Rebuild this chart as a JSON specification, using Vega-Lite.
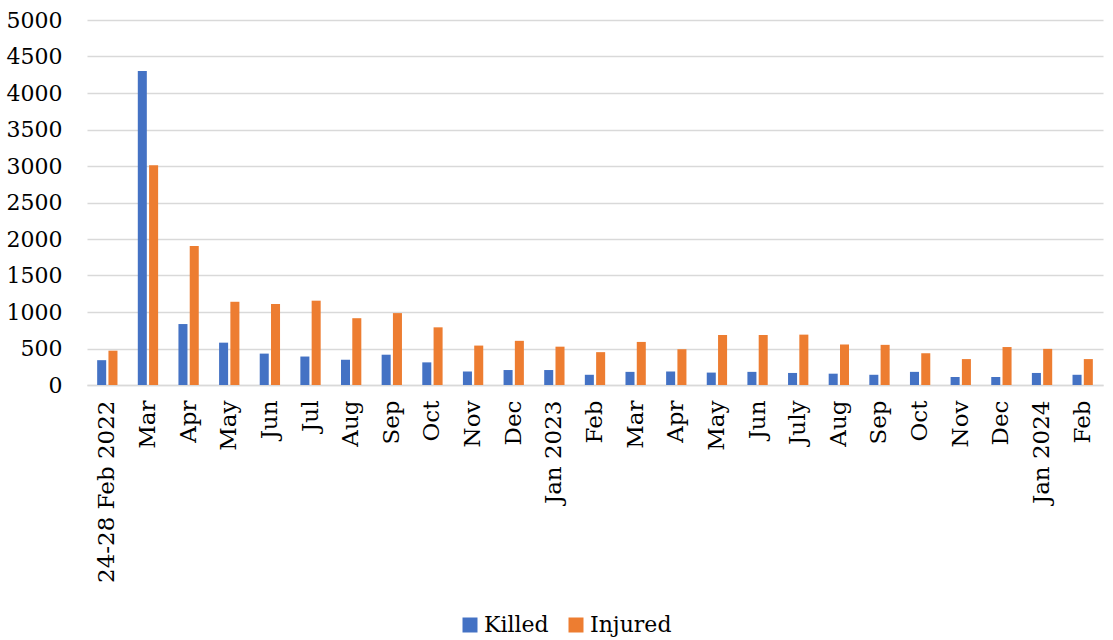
{
  "$schema": "https://vega.github.io/schema/vega-lite/v6.json",
  "width": 1016,
  "height": 365,
  "autosize": {"type": "none"},
  "padding": {"left": 87, "top": 20, "right": 10, "bottom": 255},
  "background": "white",
  "config": {
    "view": {"stroke": null},
    "font": "DejaVu Serif",
    "axis": {"labelFont": "DejaVu Serif", "labelFontSize": 22, "labelColor": "#000000", "title": null},
    "legend": {"labelFont": "DejaVu Serif", "labelFontSize": 22, "labelColor": "#000000"}
  },
  "data": {
    "values": [
      {"period": "24-28 Feb 2022|", "series": "Killed", "value": 340},
      {"period": "24-28 Feb 2022|", "series": "Injured", "value": 470},
      {"period": "Mar|22", "series": "Killed", "value": 4300},
      {"period": "Mar|22", "series": "Injured", "value": 3010},
      {"period": "Apr|22", "series": "Killed", "value": 835},
      {"period": "Apr|22", "series": "Injured", "value": 1905},
      {"period": "May|22", "series": "Killed", "value": 580},
      {"period": "May|22", "series": "Injured", "value": 1140},
      {"period": "Jun|22", "series": "Killed", "value": 430},
      {"period": "Jun|22", "series": "Injured", "value": 1110},
      {"period": "Jul|22", "series": "Killed", "value": 390},
      {"period": "Jul|22", "series": "Injured", "value": 1155},
      {"period": "Aug|22", "series": "Killed", "value": 345},
      {"period": "Aug|22", "series": "Injured", "value": 915},
      {"period": "Sep|22", "series": "Killed", "value": 415},
      {"period": "Sep|22", "series": "Injured", "value": 985},
      {"period": "Oct|22", "series": "Killed", "value": 310},
      {"period": "Oct|22", "series": "Injured", "value": 790},
      {"period": "Nov|22", "series": "Killed", "value": 185},
      {"period": "Nov|22", "series": "Injured", "value": 540},
      {"period": "Dec|22", "series": "Killed", "value": 205},
      {"period": "Dec|22", "series": "Injured", "value": 605},
      {"period": "Jan 2023|", "series": "Killed", "value": 205},
      {"period": "Jan 2023|", "series": "Injured", "value": 525},
      {"period": "Feb|23", "series": "Killed", "value": 140},
      {"period": "Feb|23", "series": "Injured", "value": 450},
      {"period": "Mar|23", "series": "Killed", "value": 180},
      {"period": "Mar|23", "series": "Injured", "value": 590},
      {"period": "Apr|23", "series": "Killed", "value": 185},
      {"period": "Apr|23", "series": "Injured", "value": 490},
      {"period": "May|23", "series": "Killed", "value": 170},
      {"period": "May|23", "series": "Injured", "value": 685},
      {"period": "Jun|23", "series": "Killed", "value": 180},
      {"period": "Jun|23", "series": "Injured", "value": 685},
      {"period": "July|23", "series": "Killed", "value": 165},
      {"period": "July|23", "series": "Injured", "value": 690},
      {"period": "Aug|23", "series": "Killed", "value": 155},
      {"period": "Aug|23", "series": "Injured", "value": 555},
      {"period": "Sep|23", "series": "Killed", "value": 140},
      {"period": "Sep|23", "series": "Injured", "value": 550},
      {"period": "Oct|23", "series": "Killed", "value": 180},
      {"period": "Oct|23", "series": "Injured", "value": 435},
      {"period": "Nov|23", "series": "Killed", "value": 110},
      {"period": "Nov|23", "series": "Injured", "value": 355},
      {"period": "Dec|23", "series": "Killed", "value": 110},
      {"period": "Dec|23", "series": "Injured", "value": 520},
      {"period": "Jan 2024|", "series": "Killed", "value": 165},
      {"period": "Jan 2024|", "series": "Injured", "value": 495},
      {"period": "Feb|24", "series": "Killed", "value": 140},
      {"period": "Feb|24", "series": "Injured", "value": 355}
    ]
  },
  "mark": {"type": "bar"},
  "encoding": {
    "x": {
      "field": "period",
      "type": "nominal",
      "sort": null,
      "scale": {"paddingInner": 0.5, "paddingOuter": 0.25},
      "axis": {
        "labelExpr": "split(datum.value, '|')[0]",
        "labelAngle": -90,
        "labelPadding": 15,
        "labelFontSize": 23,
        "labelLimit": 400,
        "ticks": false,
        "domainColor": "#d9d9d9",
        "domainWidth": 1.5,
        "grid": false
      }
    },
    "xOffset": {
      "field": "series",
      "type": "nominal",
      "sort": ["Killed", "Injured"],
      "scale": {"paddingInner": 0.2, "paddingOuter": 0}
    },
    "y": {
      "field": "value",
      "type": "quantitative",
      "scale": {"domain": [0, 5000], "nice": false},
      "axis": {
        "values": [0, 500, 1000, 1500, 2000, 2500, 3000, 3500, 4000, 4500, 5000],
        "format": "d",
        "labelPadding": 25,
        "ticks": false,
        "domain": false,
        "gridColor": "#d9d9d9",
        "gridWidth": 1.5
      }
    },
    "color": {
      "field": "series",
      "type": "nominal",
      "sort": ["Killed", "Injured"],
      "scale": {"domain": ["Killed", "Injured"], "range": ["#4472C4", "#ED7D31"]},
      "legend": {
        "title": null,
        "orient": "none",
        "direction": "horizontal",
        "legendX": 372,
        "legendY": 594,
        "symbolType": "square",
        "symbolSize": 225,
        "symbolStrokeWidth": 0,
        "labelOffset": 3,
        "columnPadding": 16
      }
    }
  }
}
